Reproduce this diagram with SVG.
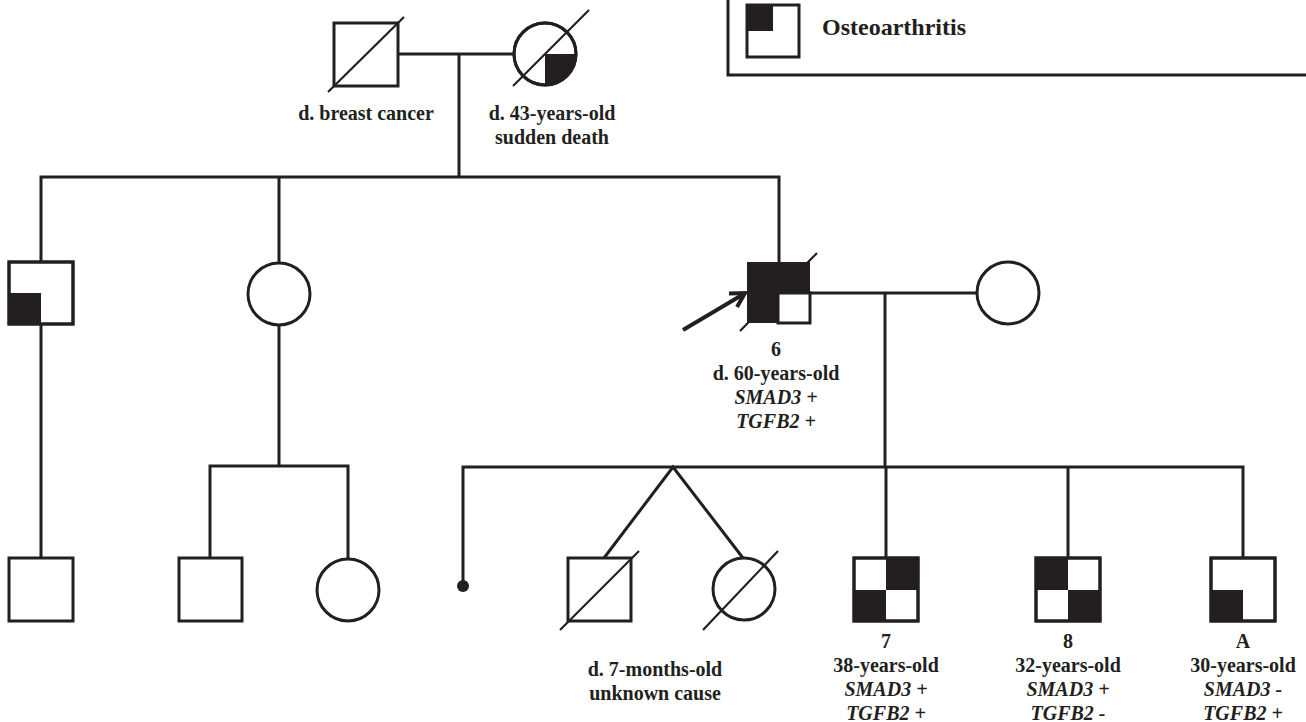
<svg xmlns="http://www.w3.org/2000/svg" width="1306" height="722" viewBox="0 0 1306 722">
<style>
.s{fill:#fff;stroke:#231f20;stroke-width:3}
.f{fill:#231f20;stroke:none}
.l{fill:none;stroke:#231f20;stroke-width:3}
.d{fill:none;stroke:#231f20;stroke-width:2.2}
text{font-family:"Liberation Serif","Times New Roman",serif;font-weight:bold;font-size:20px;fill:#231f20;text-anchor:middle}
.i{font-style:italic}
</style>
<rect width="1306" height="722" fill="#fff"/>
<g id="legend">
<path class="l" d="M728,-5 V75 H1310"/>
<rect class="s" x="747" y="5" width="52" height="52"/>
<rect class="f" x="747" y="5" width="26" height="26"/>
<text x="822" y="35" style="text-anchor:start;font-size:24px">Osteoarthritis</text>
</g>
<g id="connectors">
<path class="l" d="M398,54 H514"/>
<path class="l" d="M459,54 V177"/>
<path class="l" d="M41,262 V177 H779 V262"/>
<path class="l" d="M279,177 V262"/>
<path class="l" d="M41,324 V558"/>
<path class="l" d="M279,325 V466"/>
<path class="l" d="M210,558 V466 H348 V559"/>
<path class="l" d="M810,293 H977"/>
<path class="l" d="M885,293 V467"/>
<path class="l" d="M463,586 V467 H1243 V558"/>
<path class="l" d="M886,467 V558 M1068,467 V558"/>
<path class="l" d="M604,558 L673,467 L743,558"/>
<circle class="f" cx="463" cy="586" r="6"/>
</g>
<g id="grandfather">
<rect class="s" x="334" y="23" width="64" height="63"/>
<line class="d" x1="328" y1="92" x2="404" y2="17"/>
<text x="366" y="120">d. breast cancer</text>
</g>
<g id="grandmother">
<circle class="s" cx="545" cy="54" r="31"/>
<path class="f" d="M545,54 H576 A31,31 0 0 1 545,85 Z"/>
<circle cx="545" cy="54" r="31" fill="none" stroke="#231f20" stroke-width="3"/>
<line class="d" x1="513" y1="86" x2="589" y2="10"/>
<text x="552" y="120">d. 43-years-old</text>
<text x="552" y="144">sudden death</text>
</g>
<g id="uncle">
<rect class="s" x="9" y="262" width="64" height="62"/>
<rect class="f" x="9" y="293" width="32" height="31"/>
<rect x="9" y="262" width="64" height="62" fill="none" stroke="#231f20" stroke-width="3"/>
</g>
<g id="aunt">
<circle class="s" cx="279" cy="294" r="31"/>
</g>
<g id="proband">
<line class="d" x1="740" y1="331" x2="817" y2="253"/>
<rect class="f" x="747" y="262" width="63" height="61" stroke="#231f20" stroke-width="3"/>
<rect x="778" y="293" width="32" height="30" fill="#fff" stroke="#231f20" stroke-width="3"/>
<line class="l" x1="683" y1="330" x2="742" y2="295" style="stroke-width:4"/>
<polyline points="729,293.5 745,293 737,307" fill="none" stroke="#231f20" stroke-width="4"/>
<text x="776" y="356">6</text>
<text x="776" y="380">d. 60-years-old</text>
<text x="776" y="404" class="i">SMAD3 +</text>
<text x="776" y="428" class="i">TGFB2 +</text>
</g>
<g id="spouse">
<circle class="s" cx="1008" cy="293" r="31"/>
</g>
<g id="cousin1">
<rect class="s" x="9" y="558" width="64" height="63"/>
</g>
<g id="cousin2">
<rect class="s" x="179" y="558" width="63" height="63"/>
</g>
<g id="cousin3">
<circle class="s" cx="348" cy="590" r="31"/>
</g>
<g id="twin-son">
<rect class="s" x="568" y="558" width="63" height="63"/>
<line class="d" x1="560" y1="630" x2="639" y2="551"/>
</g>
<g id="twin-daughter">
<circle class="s" cx="744" cy="589" r="31"/>
<line class="d" x1="703" y1="630" x2="778" y2="551"/>
<text x="655" y="676">d. 7-months-old</text>
<text x="655" y="700">unknown cause</text>
</g>
<g id="child7">
<rect class="s" x="854" y="558" width="64" height="63"/>
<rect class="f" x="886" y="558" width="32" height="32"/>
<rect class="f" x="854" y="590" width="32" height="31"/>
<rect x="854" y="558" width="64" height="63" fill="none" stroke="#231f20" stroke-width="3"/>
<text x="886" y="648">7</text>
<text x="886" y="672">38-years-old</text>
<text x="886" y="696" class="i">SMAD3 +</text>
<text x="886" y="720" class="i">TGFB2 +</text>
</g>
<g id="child8">
<rect class="s" x="1036" y="558" width="64" height="63"/>
<rect class="f" x="1036" y="558" width="32" height="32"/>
<rect class="f" x="1068" y="590" width="32" height="31"/>
<rect x="1036" y="558" width="64" height="63" fill="none" stroke="#231f20" stroke-width="3"/>
<text x="1068" y="648">8</text>
<text x="1068" y="672">32-years-old</text>
<text x="1068" y="696" class="i">SMAD3 +</text>
<text x="1068" y="720" class="i">TGFB2 -</text>
</g>
<g id="childA">
<rect class="s" x="1211" y="558" width="64" height="63"/>
<rect class="f" x="1211" y="590" width="32" height="31"/>
<rect x="1211" y="558" width="64" height="63" fill="none" stroke="#231f20" stroke-width="3"/>
<text x="1243" y="648">A</text>
<text x="1243" y="672">30-years-old</text>
<text x="1243" y="696" class="i">SMAD3 -</text>
<text x="1243" y="720" class="i">TGFB2 +</text>
</g>
</svg>
